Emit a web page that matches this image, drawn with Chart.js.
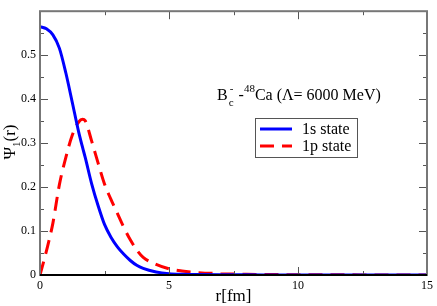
<!DOCTYPE html>
<html>
<head>
<meta charset="utf-8">
<script src="https://cdn.jsdelivr.net/npm/chart.js@4/dist/chart.umd.min.js"></script>
<style>
  body { margin: 0; background: #fff; }
  #wrap { width: 437px; height: 306px; }
</style>
</head>
<body>
<div id="wrap"><canvas id="waveChart" width="437" height="306"></canvas></div>
<script>
// r grid (fm) and wave functions
const radius = [0, 0.25, 0.5, 0.75, 1, 1.25, 1.5, 1.65, 1.75, 2, 2.25, 2.5, 2.75, 3, 3.25, 3.5, 3.75, 4, 4.5, 5, 5.5, 6, 7, 8, 9, 10, 11, 12, 13, 14, 15];
const psi1s = [0.565, 0.560, 0.546, 0.516, 0.460, 0.393, 0.325, 0.290, 0.268, 0.208, 0.158, 0.115, 0.086, 0.064, 0.047, 0.033, 0.022, 0.015, 0.007, 0.003, 0.0015, 0.001, 0.0005, 0.0003, 0.0002, 0.0001, 0, 0, 0, 0, 0];
const psi1p = [0, 0.055, 0.118, 0.205, 0.267, 0.318, 0.348, 0.354, 0.351, 0.305, 0.255, 0.207, 0.172, 0.140, 0.108, 0.080, 0.057, 0.040, 0.024, 0.014, 0.009, 0.006, 0.003, 0.0015, 0.001, 0.0006, 0.0004, 0.0003, 0.0002, 0.0001, 0];
const seriesNames = ['1s state', '1p state'];
const xTicks = [0, 5, 10, 15];
const yTicks = [0, 0.1, 0.2, 0.3, 0.4, 0.5];

const serif = "'Liberation Serif', 'Times New Roman', serif";

function toPoints(ys) {
    return radius.map((r, i) => ({ x: r, y: ys[i] }));
}

// frame, inward ticks, labels and legend box
const decorPlugin = {
    id: 'decor',
    afterDraw(chart) {
        const ctx = chart.ctx;
        const a = chart.chartArea;
        const xs = chart.scales.x;
        const ys = chart.scales.y;
        ctx.save();

        // ticks on all four sides, pointing inward
        ctx.lineWidth = 1;
        ctx.strokeStyle = '#555';
        const xStep = xTicks[1] - xTicks[0];
        for (let i = 0; i < xTicks.length; i++) {
            const v = xTicks[i];
            const px = Math.round(xs.getPixelForValue(v)) + 0.5;
            ctx.beginPath();
            ctx.moveTo(px, a.bottom); ctx.lineTo(px, a.bottom - 8);
            ctx.moveTo(px, a.top); ctx.lineTo(px, a.top + 8);
            if (i < xTicks.length - 1) {
                const m = Math.round(xs.getPixelForValue(v + xStep / 2)) + 0.5;
                ctx.moveTo(m, a.bottom); ctx.lineTo(m, a.bottom - 4);
                ctx.moveTo(m, a.top); ctx.lineTo(m, a.top + 4);
            }
            ctx.stroke();
        }
        const yStep = yTicks[1] - yTicks[0];
        const yAll = yTicks.concat([yTicks[yTicks.length - 1] + yStep]);
        for (let i = 0; i < yAll.length; i++) {
            const v = yAll[i];
            const py = Math.round(ys.getPixelForValue(v)) + 0.5;
            ctx.beginPath();
            ctx.moveTo(a.left, py); ctx.lineTo(a.left + 8, py);
            ctx.moveTo(a.right, py); ctx.lineTo(a.right - 8, py);
            if (i < yAll.length - 1) {
                const m = Math.round(ys.getPixelForValue(v + yStep / 2)) + 0.5;
                ctx.moveTo(a.left, m); ctx.lineTo(a.left + 4, m);
                ctx.moveTo(a.right, m); ctx.lineTo(a.right - 4, m);
            }
            ctx.stroke();
        }

        // frame
        ctx.lineWidth = 2;
        ctx.strokeStyle = '#777';
        ctx.strokeRect(a.left, a.top, a.right - a.left, a.bottom - a.top);
        ctx.strokeStyle = '#000';
        ctx.beginPath();
        ctx.moveTo(a.left, a.bottom); ctx.lineTo(a.right, a.bottom);
        ctx.stroke();

        ctx.fillStyle = '#000';
        // x title
        ctx.font = '17px ' + serif;
        ctx.textAlign = 'center';
        ctx.textBaseline = 'alphabetic';
        ctx.fillText('r[fm]', (a.left + a.right) / 2, 301);

        // y title: Psi_1(r)
        ctx.save();
        ctx.translate(15, 142);
        ctx.rotate(-Math.PI / 2);
        ctx.textAlign = 'left';
        ctx.font = '17px ' + serif;
        const w1 = ctx.measureText('Ψ').width;
        ctx.font = '11px ' + serif;
        const w2 = ctx.measureText('1').width;
        ctx.font = '17px ' + serif;
        const w3 = ctx.measureText('(r)').width;
        let x0 = -(w1 + w2 + w3) / 2;
        ctx.fillText('Ψ', x0, 0);
        ctx.font = '11px ' + serif;
        ctx.fillText('1', x0 + w1, 5);
        ctx.font = '17px ' + serif;
        ctx.fillText('(r)', x0 + w1 + w2, 0);
        ctx.restore();

        // annotation: B_c^- - ^48Ca (Λ= 6000 MeV)
        ctx.textAlign = 'left';
        let tx = 217;
        const ty = 100;
        const big = '16px ' + serif, small = '11px ' + serif;
        ctx.font = big; ctx.fillText('B', tx, ty);
        tx += ctx.measureText('B').width + 1;
        ctx.font = small; ctx.fillText('-', tx + 1, ty - 8);
        ctx.fillText('c', tx, ty + 6);
        tx += ctx.measureText('c').width + 1;
        ctx.font = big; ctx.fillText(' -', tx, ty);
        tx += ctx.measureText(' -').width;
        ctx.font = small; ctx.fillText('48', tx, ty - 8);
        tx += ctx.measureText('48').width;
        ctx.font = big; ctx.fillText('Ca (Λ= 6000 MeV)', tx, ty);

        // legend box
        const bx = 255, by = 118, bw = 102, bh = 39;
        ctx.lineWidth = 1;
        ctx.strokeStyle = '#555';
        ctx.strokeRect(bx + 0.5, by + 0.5, bw, bh);
        chart.data.datasets.forEach((ds, i) => {
            const ly = by + 11 + i * 17;
            ctx.beginPath();
            ctx.lineWidth = ds.borderWidth;
            ctx.strokeStyle = ds.borderColor;
            ctx.setLineDash(ds.borderDash || []);
            ctx.moveTo(bx + 5, ly);
            ctx.lineTo(bx + 37, ly);
            ctx.stroke();
            ctx.setLineDash([]);
            ctx.fillStyle = '#000';
            ctx.font = '16px ' + serif;
            ctx.textBaseline = 'middle';
            ctx.fillText(ds.label, bx + 47, ly + 1);
        });
        ctx.restore();
    }
};

const ctxWave = document.getElementById('waveChart').getContext('2d');
const waveChart = new Chart(ctxWave, {
    type: 'line',
    data: {
        datasets: [{
            label: seriesNames[0],
            data: toPoints(psi1s),
            borderColor: '#0000ff',
            borderWidth: 3,
            pointRadius: 0,
            cubicInterpolationMode: 'monotone',
            fill: false
        }, {
            label: seriesNames[1],
            data: toPoints(psi1p),
            borderColor: '#ff0000',
            borderWidth: 3,
            borderDash: [14, 8],
            pointRadius: 0,
            cubicInterpolationMode: 'monotone',
            fill: false
        }]
    },
    options: {
        responsive: false,
        animation: false,
        layout: { padding: { top: 2, right: 7, left: 0, bottom: 0 } },
        plugins: {
            legend: { display: false },
            tooltip: { enabled: false }
        },
        scales: {
            x: {
                type: 'linear',
                min: 0,
                max: 15,
                grid: { display: false, drawTicks: false, tickLength: 0 },
                border: { display: false },
                afterFit: (s) => { s.height = 31; },
                afterBuildTicks: (s) => { s.ticks = xTicks.map(v => ({ value: v })); },
                ticks: {
                    color: '#000',
                    padding: 4,
                    maxRotation: 0,
                    font: { family: serif, size: 12 },
                    callback: (v) => String(v)
                }
            },
            y: {
                type: 'linear',
                min: 0,
                max: 0.6,
                grid: { display: false, drawTicks: false, tickLength: 0 },
                border: { display: false },
                afterFit: (s) => { s.width = 40; },
                afterBuildTicks: (s) => { s.ticks = yTicks.map(v => ({ value: v })); },
                ticks: {
                    color: '#000',
                    padding: 4,
                    font: { family: serif, size: 12 },
                    callback: (v) => String(Math.round(v * 10) / 10)
                }
            }
        }
    },
    plugins: [decorPlugin]
});
</script>
</body>
</html>
